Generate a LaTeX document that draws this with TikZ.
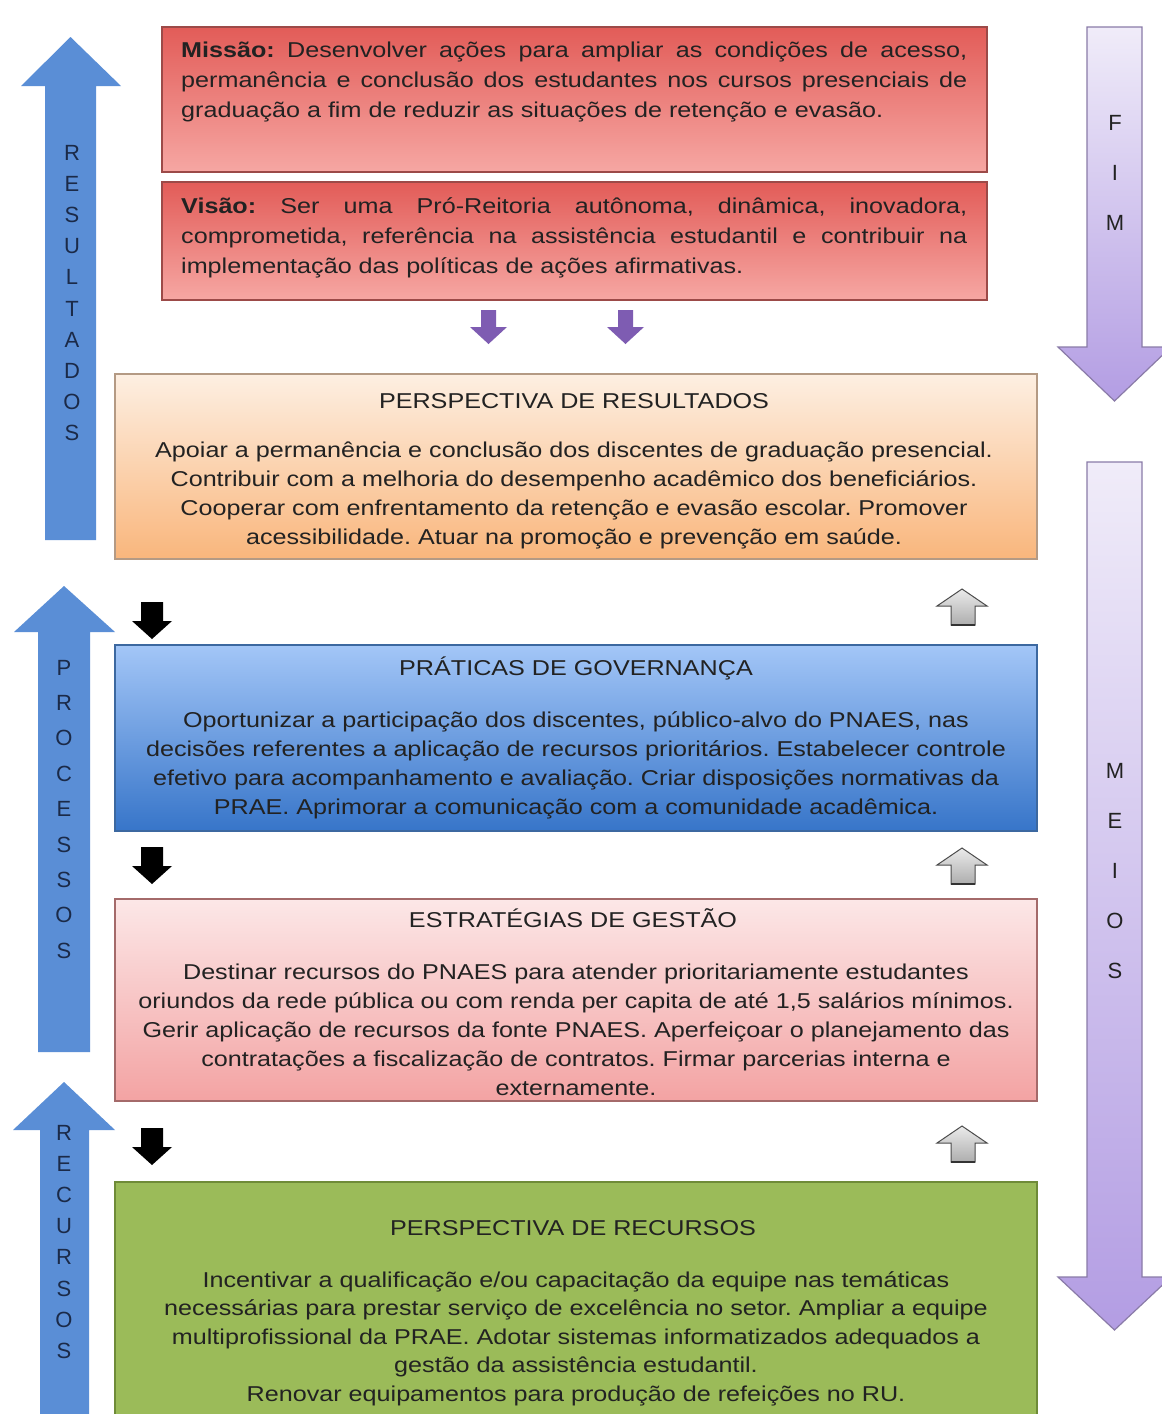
\documentclass[tikz,border=0pt]{standalone}
\usepackage{fontspec}
\setmainfont{Liberation Sans}
\newfontfamily\bodyfont{Liberation Sans}[FakeStretch=1.17]
\frenchspacing
\definecolor{misT}{HTML}{E25C58}
\definecolor{misBot}{HTML}{F6A7A3}
\definecolor{misB}{HTML}{9C4A48}
\definecolor{orT}{HTML}{FDEFE2}
\definecolor{orBot}{HTML}{F9B67C}
\definecolor{orB}{HTML}{B49A84}
\definecolor{blT}{HTML}{A3C6F7}
\definecolor{blBot}{HTML}{3775C9}
\definecolor{blB}{HTML}{3C68A0}
\definecolor{esT}{HTML}{FCE7E7}
\definecolor{esBot}{HTML}{F3A3A3}
\definecolor{esB}{HTML}{A46A6A}
\definecolor{grF}{HTML}{9BBB59}
\definecolor{grB}{HTML}{6F8B38}
\definecolor{blueArr}{HTML}{5A8ED6}
\definecolor{purT}{HTML}{F0ECF9}
\definecolor{purBot}{HTML}{B39DE3}
\definecolor{purB}{HTML}{8A7BA8}
\definecolor{smallPur}{HTML}{7E5CB2}
\definecolor{txt}{HTML}{222222}
\definecolor{navy}{HTML}{1B2A48}
\begin{document}
\begin{tikzpicture}[x=1pt,y=-1pt,
  box/.style={draw, line width=1.3pt, inner sep=0pt},
  bodytxt/.style={inner sep=0pt, text=txt, anchor=base,
    font=\bodyfont\fontsize{21.5}{29.2}\selectfont},
  mvtxt/.style={inner sep=0pt, text=txt, anchor=base west,
    font=\bodyfont\fontsize{21.5}{30}\selectfont},
  vlet/.style={inner sep=0pt, text=navy, anchor=base},
  bluearrow/.style={fill=blueArr},
  purarrow/.style={draw=purB, line width=1.2pt, top color=purT, bottom color=purBot},
  smallpur/.style={fill=smallPur},
  blackarrow/.style={fill=black},
  grayarrow/.style={draw=black!70, line width=1pt, top color=white!92!black, bottom color=white!68!black}
]
\useasboundingbox[fill=white] (0,0) rectangle (1162,1414);

% ---------- big arrows left ----------
\path[bluearrow] (45,540) -- (45,86) -- (21,86) -- (70.5,37) -- (121,86) -- (96,86) -- (96,540) -- cycle;
\path[bluearrow] (38,1052) -- (38,632) -- (14,632) -- (64,586) -- (115,632) -- (90,632) -- (90,1052) -- cycle;
\path[bluearrow] (40,1430) -- (40,1130) -- (13,1130) -- (64,1082) -- (115,1130) -- (89,1130) -- (89,1430) -- cycle;

\node[vlet, font=\fontsize{22}{31.2}\selectfont] (resl) at (72,160)
  {\begin{tabular}[t]{@{}c@{}}R\\E\\S\\U\\L\\T\\A\\D\\O\\S\end{tabular}};
\node[vlet, font=\fontsize{22}{35.4}\selectfont] (procl) at (64,675)
  {\begin{tabular}[t]{@{}c@{}}P\\R\\O\\C\\E\\S\\S\\O\\S\end{tabular}};
\node[vlet, font=\fontsize{22}{31.2}\selectfont] (recl) at (64,1140)
  {\begin{tabular}[t]{@{}c@{}}R\\E\\C\\U\\R\\S\\O\\S\end{tabular}};

% ---------- big arrows right ----------
\path[purarrow] (1087,27) -- (1142,27) -- (1142,347) -- (1171,347) -- (1114.5,401) -- (1058,347) -- (1087,347) -- cycle;
\path[purarrow] (1087,462) -- (1142,462) -- (1142,1277) -- (1171,1277) -- (1114.5,1330) -- (1058,1277) -- (1087,1277) -- cycle;

\node[vlet, text=txt, font=\fontsize{22}{50}\selectfont] (fiml) at (1115,130)
  {\begin{tabular}[t]{@{}c@{}}F\\I\\M\end{tabular}};
\node[vlet, text=txt, font=\fontsize{22}{50}\selectfont] (meil) at (1115,778)
  {\begin{tabular}[t]{@{}c@{}}M\\E\\I\\O\\S\end{tabular}};

% ---------- boxes ----------
\node[box, draw=misB, top color=misT, bottom color=misBot, minimum width=825pt, minimum height=145pt] (mis) at (574.5,99.5) {};
\node[box, draw=misB, top color=misT, bottom color=misBot, minimum width=825pt, minimum height=118pt] (vis) at (574.5,241) {};
\node[box, draw=orB, top color=orT, bottom color=orBot, minimum width=922pt, minimum height=185pt] (res) at (576,466.5) {};
\node[box, draw=blB, top color=blT, bottom color=blBot, minimum width=922pt, minimum height=186pt] (gov) at (576,738) {};
\node[box, draw=esB, top color=esT, bottom color=esBot, minimum width=922pt, minimum height=202pt] (ges) at (576,1000) {};
\node[box, draw=grB, fill=grF, minimum width=922pt, minimum height=260pt] (rec) at (576,1312) {};

% ---------- Missão / Visão ----------
\node[mvtxt] (mistxt) at (181,57) {\begin{tabular}[t]{@{}l@{}}
\makebox[786pt][s]{\textbf{Missão:} Desenvolver ações para ampliar as condições de acesso,}\\
\makebox[786pt][s]{permanência e conclusão dos estudantes nos cursos presenciais de}\\
graduação a fim de reduzir as situações de retenção e evasão.
\end{tabular}};
\node[mvtxt] (vistxt) at (181,213) {\begin{tabular}[t]{@{}l@{}}
\makebox[786pt][s]{\textbf{Visão:} Ser uma Pró-Reitoria autônoma, dinâmica, inovadora,}\\
\makebox[786pt][s]{comprometida, referência na assistência estudantil e contribuir na}\\
implementação das políticas de ações afirmativas.
\end{tabular}};

% ---------- Perspectiva de resultados ----------
\node[bodytxt] (restit) at (574,408) {PERSPECTIVA DE RESULTADOS};
\node[bodytxt] (resbody) at (574,457) {\begin{tabular}[t]{@{}c@{}}
Apoiar a permanência e conclusão dos discentes de graduação presencial.\\
Contribuir com a melhoria do desempenho acadêmico dos beneficiários.\\
Cooperar com enfrentamento da retenção e evasão escolar. Promover\\
acessibilidade. Atuar na promoção e prevenção em saúde.
\end{tabular}};

% ---------- Práticas de governança ----------
\node[bodytxt] (govtit) at (576,675) {PRÁTICAS DE GOVERNANÇA};
\node[bodytxt] (govbody) at (576,727) {\begin{tabular}[t]{@{}c@{}}
Oportunizar a participação dos discentes, público-alvo do PNAES, nas\\
decisões referentes a aplicação de recursos prioritários. Estabelecer controle\\
efetivo para acompanhamento e avaliação. Criar disposições normativas da\\
PRAE. Aprimorar a comunicação com a comunidade acadêmica.
\end{tabular}};

% ---------- Estratégias de gestão ----------
\node[bodytxt] (gestit) at (573,927) {ESTRATÉGIAS DE GESTÃO};
\node[bodytxt] (gesbody) at (576,979) {\begin{tabular}[t]{@{}c@{}}
Destinar recursos do PNAES para atender prioritariamente estudantes\\
oriundos da rede pública ou com renda per capita de até 1,5 salários mínimos.\\
Gerir aplicação de recursos da fonte PNAES. Aperfeiçoar o planejamento das\\
contratações a fiscalização de contratos. Firmar parcerias interna e\\
externamente.
\end{tabular}};

% ---------- Perspectiva de recursos ----------
\node[bodytxt] (rectit) at (573,1235) {PERSPECTIVA DE RECURSOS};
\node[bodytxt, font=\bodyfont\fontsize{21.5}{28.5}\selectfont] (recbody) at (576,1287) {\begin{tabular}[t]{@{}c@{}}
Incentivar a qualificação e/ou capacitação da equipe nas temáticas\\
necessárias para prestar serviço de excelência no setor. Ampliar a equipe\\
multiprofissional da PRAE. Adotar sistemas informatizados adequados a\\
gestão da assistência estudantil.\\
Renovar equipamentos para produção de refeições no RU.
\end{tabular}};

% ---------- small purple arrows ----------
\path[smallpur] (481,310) -- (496,310) -- (496,327) -- (507,327) -- (488.5,344) -- (470,327) -- (481,327) -- cycle;
\path[smallpur] (618,310) -- (633,310) -- (633,327) -- (644,327) -- (625.5,344) -- (607,327) -- (618,327) -- cycle;

% ---------- black down arrows ----------
\foreach \y in {602,847,1128}{
  \path[blackarrow] (141,\y) -- (163,\y) -- (163,\y+19) -- (172,\y+19) -- (152,\y+37) -- (132,\y+19) -- (141,\y+19) -- cycle;
}
% ---------- gray up arrows ----------
\foreach \y in {589,848,1126}{
  \path[grayarrow] (951,\y+36) -- (951,\y+17) -- (937,\y+17) -- (962,\y) -- (987,\y+17) -- (975,\y+17) -- (975,\y+36) -- cycle;
  \draw[line width=2pt, black!80] (951,\y+36) -- (975,\y+36);
}
\end{tikzpicture}
\end{document}
